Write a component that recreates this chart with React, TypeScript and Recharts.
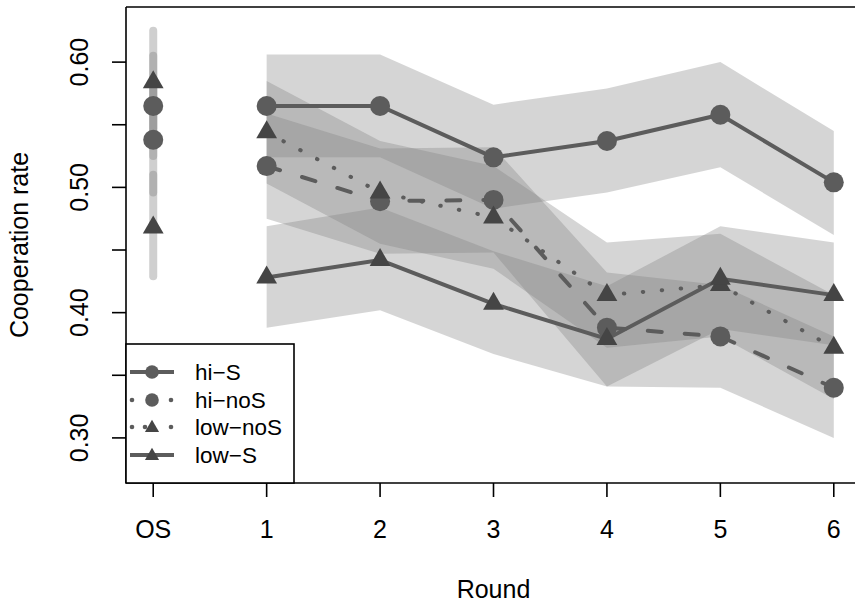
import React from "react";
import { ComposedChart, Area, Line, Scatter, XAxis, YAxis, ReferenceLine } from "recharts";

// ---- data ----
const rounds = [1, 2, 3, 4, 5, 6];
const xTicks = [0, 1, 2, 3, 4, 5, 6];
const xTickLabels = ["OS", "1", "2", "3", "4", "5", "6"];
const yTicks = [0.3, 0.35, 0.4, 0.45, 0.5, 0.55, 0.6];
const yLabelTicks = [0.3, 0.4, 0.5, 0.6];
const yDomain = [0.264, 0.644];
const xDomain = [-0.24, 6.24];

const hiS = [0.565, 0.565, 0.524, 0.537, 0.558, 0.504];
const hiSLow = [0.524, 0.524, 0.483, 0.496, 0.516, 0.462];
const hiSHigh = [0.606, 0.606, 0.566, 0.579, 0.6, 0.545];

const hiNoS = [0.517, 0.489, 0.49, 0.388, 0.381, 0.34];
const hiNoSLow = [0.475, 0.447, 0.448, 0.341, 0.34, 0.3];
const hiNoSHigh = [0.559, 0.531, 0.532, 0.432, 0.422, 0.381];

const lowNoS = [0.544, 0.496, 0.476, 0.414, 0.422, 0.372];
const lowNoSLow = [0.503, 0.455, 0.435, 0.372, 0.381, 0.331];
const lowNoSHigh = [0.585, 0.537, 0.517, 0.456, 0.463, 0.414];

const lowS = [0.428, 0.442, 0.407, 0.379, 0.427, 0.414];
const lowSLow = [0.388, 0.402, 0.367, 0.341, 0.387, 0.374];
const lowSHigh = [0.469, 0.484, 0.449, 0.421, 0.469, 0.456];

// one-shot (OS) values and their intervals
const osHiS = 0.565;
const osHiSBand = [0.525, 0.605];
const osHiNoS = 0.538;
const osHiNoSBand = [0.496, 0.58];
const osLowNoS = 0.584;
const osLowNoSBand = [0.547, 0.625];
const osLowS = 0.468;
const osLowSBand = [0.429, 0.51];

const legendNames = ["hi\u2212S", "hi\u2212noS", "low\u2212noS", "low\u2212S"];

// ---- table built from arrays ----
const data = rounds.map((r, i) => ({
  x: r,
  hiS: hiS[i],
  hiSR: [hiSLow[i], hiSHigh[i]],
  hiNoS: hiNoS[i],
  hiNoSR: [hiNoSLow[i], hiNoSHigh[i]],
  lowNoS: lowNoS[i],
  lowNoSR: [lowNoSLow[i], lowNoSHigh[i]],
  lowS: lowS[i],
  lowSR: [lowSLow[i], lowSHigh[i]],
}));

const osBands = [osLowNoSBand, osHiSBand, osHiNoSBand, osLowSBand].map((b) => [
  { x: 0, v: b[0] },
  { x: 0, v: b[1] },
]);
const osCircleData = [
  { x: 0, y: osHiS },
  { x: 0, y: osHiNoS },
];
const osTriangleData = [
  { x: 0, y: osLowNoS },
  { x: 0, y: osLowS },
];

// ---- styles ----
const FONT = "'Liberation Sans', Arial, Helvetica, sans-serif";
const LINE = "#5c5c5c";
const CIRC = "#5c5c5c";
const TRI = "#454545";
const LW = 4;
const CR = 10;
const TR = 12;

const triPoints = (cx: number, cy: number, r: number) =>
  `${cx},${cy - r} ${cx + 0.866 * r},${cy + r / 2} ${cx - 0.866 * r},${cy + r / 2}`;

const circleDot = (name: string) => (p: any) => {
  if (p.cx == null || p.cy == null) return <g key={`${name}-${p.index}`} />;
  return <circle key={`${name}-${p.index}`} cx={p.cx} cy={p.cy} r={CR} fill={CIRC} stroke="none" />;
};
const triDot = (name: string) => (p: any) => {
  if (p.cx == null || p.cy == null) return <g key={`${name}-${p.index}`} />;
  return <polygon key={`${name}-${p.index}`} points={triPoints(p.cx, p.cy, TR)} fill={TRI} stroke="none" />;
};

const XTick = (p: any) => {
  const i = xTicks.indexOf(p.payload.value);
  return (
    <text x={p.x} y={p.y + 41} textAnchor="middle" fontFamily={FONT} fontSize={25} fill="#000">
      {xTickLabels[i]}
    </text>
  );
};

const YTick = (p: any) => {
  const v = p.payload.value;
  const show = yLabelTicks.some((t) => Math.abs(t - v) < 1e-9);
  if (!show) return <g />;
  const x = p.x - 23.5;
  return (
    <text
      x={x}
      y={p.y}
      transform={`rotate(-90 ${x} ${p.y})`}
      textAnchor="middle"
      fontFamily={FONT}
      fontSize={25}
      fill="#000"
    >
      {v.toFixed(2)}
    </text>
  );
};

const bandFill = "#808080";
const bandOpacity = 0.33;

const Legend = () => {
  const rows = [372, 400, 427, 455];
  const fs = 22.5;
  return (
    <svg
      width={855}
      height={605}
      style={{ position: "absolute", left: 0, top: 0, pointerEvents: "none" }}
    >
      <rect x={126} y={344} width={168} height={139} fill="#fff" stroke="#000" strokeWidth={1.6} />
      {/* hi-S */}
      <line x1={130} x2={174} y1={rows[0]} y2={rows[0]} stroke={LINE} strokeWidth={LW} />
      <circle cx={152} cy={rows[0]} r={6.8} fill={CIRC} />
      {/* hi-noS */}
      <circle cx={132} cy={rows[1]} r={2.3} fill={LINE} />
      <circle cx={171} cy={rows[1]} r={2.3} fill={LINE} />
      <circle cx={152} cy={rows[1]} r={6.8} fill={CIRC} />
      {/* low-noS */}
      <circle cx={132} cy={rows[2]} r={2.3} fill={LINE} />
      <circle cx={145} cy={rows[2]} r={2.3} fill={LINE} />
      <circle cx={171} cy={rows[2]} r={2.3} fill={LINE} />
      <polygon points={triPoints(152, rows[2] + 1, 8.2)} fill={TRI} />
      {/* low-S */}
      <line x1={130} x2={174} y1={rows[3]} y2={rows[3]} stroke={LINE} strokeWidth={LW} />
      <polygon points={triPoints(152, rows[3] + 1, 8.2)} fill={TRI} />
      {legendNames.map((n, i) => (
        <text key={n} x={195} y={rows[i] + 8} fontFamily={FONT} fontSize={fs} fill="#000">
          {n}
        </text>
      ))}
    </svg>
  );
};

export default function App() {
  return (
    <div
      style={{
        position: "absolute",
        left: 0,
        top: 0,
        width: 855,
        height: 605,
        overflow: "hidden",
        background: "#fff",
      }}
    >
      <ComposedChart width={861} height={605} data={data} margin={{ top: 7, right: 0, bottom: 0, left: 0 }}>
        <XAxis
          dataKey="x"
          type="number"
          domain={xDomain}
          allowDataOverflow
          ticks={xTicks}
          interval={0}
          height={122}
          tickSize={14}
          tickMargin={0}
          tick={<XTick />}
          axisLine={{ stroke: "#000", strokeWidth: 1.6 }}
          tickLine={{ stroke: "#000", strokeWidth: 1.6 }}
          label={{
            content: (p: any) => {
              const vb = p.viewBox || { x: 126, y: 483, width: 735 };
              return (
                <text
                  x={vb.x + vb.width / 2}
                  y={vb.y + 115}
                  textAnchor="middle"
                  fontFamily={FONT}
                  fontSize={25}
                  fill="#000"
                >
                  Round
                </text>
              );
            },
          }}
        />
        <YAxis
          type="number"
          domain={yDomain}
          allowDataOverflow
          ticks={yTicks}
          interval={0}
          width={126}
          tickSize={14}
          tickMargin={0}
          tick={<YTick />}
          axisLine={{ stroke: "#000", strokeWidth: 1.6 }}
          tickLine={{ stroke: "#000", strokeWidth: 1.6 }}
          label={{
            content: (p: any) => {
              const vb = p.viewBox || { x: 0, y: 7, height: 476 };
              const x = vb.x + 28.3;
              const y = vb.y + vb.height / 2;
              return (
                <text
                  x={x}
                  y={y}
                  transform={`rotate(-90 ${x} ${y})`}
                  textAnchor="middle"
                  fontFamily={FONT}
                  fontSize={25}
                  fill="#000"
                >
                  Cooperation rate
                </text>
              );
            },
          }}
        />

        <Area dataKey="hiSR" type="linear" stroke="none" fill={bandFill} fillOpacity={bandOpacity} isAnimationActive={false} dot={false} activeDot={false} />
        <Area dataKey="hiNoSR" type="linear" stroke="none" fill={bandFill} fillOpacity={bandOpacity} isAnimationActive={false} dot={false} activeDot={false} />
        <Area dataKey="lowNoSR" type="linear" stroke="none" fill={bandFill} fillOpacity={bandOpacity} isAnimationActive={false} dot={false} activeDot={false} />
        <Area dataKey="lowSR" type="linear" stroke="none" fill={bandFill} fillOpacity={bandOpacity} isAnimationActive={false} dot={false} activeDot={false} />

        {osBands.map((b, i) => (
          <Line
            key={`os-band-${i}`}
            data={b}
            dataKey="v"
            type="linear"
            stroke="#808080"
            strokeOpacity={0.38}
            strokeWidth={8}
            strokeLinecap="round"
            dot={false}
            activeDot={false}
            isAnimationActive={false}
          />
        ))}

        <Line dataKey="hiS" type="linear" stroke={LINE} strokeWidth={LW} strokeLinecap="round" dot={circleDot("hiS")} activeDot={false} isAnimationActive={false} />
        <Line dataKey="hiNoS" type="linear" stroke={LINE} strokeWidth={LW} strokeLinecap="round" strokeDasharray="14 23" dot={circleDot("hiNoS")} activeDot={false} isAnimationActive={false} />
        <Line dataKey="lowNoS" type="linear" stroke={LINE} strokeWidth={LW} strokeLinecap="round" strokeDasharray="0.5 18.5" dot={triDot("lowNoS")} activeDot={false} isAnimationActive={false} />
        <Line dataKey="lowS" type="linear" stroke={LINE} strokeWidth={LW} strokeLinecap="round" dot={triDot("lowS")} activeDot={false} isAnimationActive={false} />

        <Scatter
          data={osCircleData}
          dataKey="y"
          isAnimationActive={false}
          shape={(p: any) => <circle cx={p.cx} cy={p.cy} r={CR} fill={CIRC} />}
        />
        <Scatter
          data={osTriangleData}
          dataKey="y"
          isAnimationActive={false}
          shape={(p: any) => <polygon points={triPoints(p.cx, p.cy, TR)} fill={TRI} />}
        />

        {/* top frame of the plot box */}
        <ReferenceLine y={yDomain[1]} stroke="#000" strokeWidth={1.6} ifOverflow="visible" />
      </ComposedChart>
      <Legend />
    </div>
  );
}
